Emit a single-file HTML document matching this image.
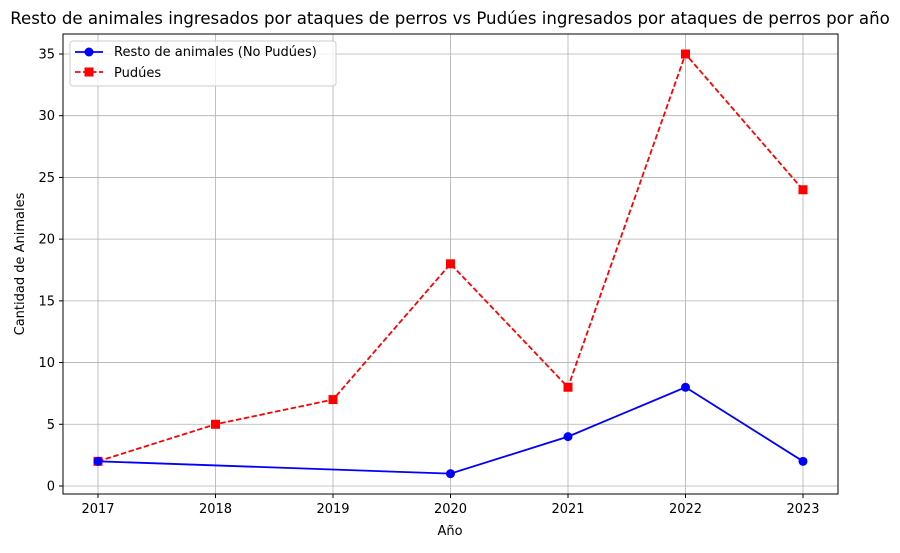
<!DOCTYPE html>
<html><head><meta charset="utf-8"><style>
body{margin:0;background:#fff;font-family:"Liberation Sans","DejaVu Sans",sans-serif;}
text{font-family:"DejaVu Sans","Liberation Sans",sans-serif;}
</style></head><body>
<svg id="chart" width="900" height="548">
<text x="450" y="24" text-anchor="middle" font-size="16.6">Resto de animales ingresados por ataques de perros vs Pudúes ingresados por ataques de perros por año</text>
<g id="grid"></g><g id="marks"></g><g id="axes"></g>
<rect x="63" y="34" width="775" height="460" fill="none" stroke="#000" stroke-width="1"/>
<text x="450" y="535" text-anchor="middle" font-size="13">Año</text>
<text x="24" y="264" text-anchor="middle" font-size="13" transform="rotate(-90 24 264)">Cantidad de Animales</text>
<g>
<rect x="70" y="41" width="266" height="45" rx="3" fill="#fff" fill-opacity="0.8" stroke="#ccc"/>
<g>
<line x1="75" y1="52" x2="103" y2="52" stroke="blue" stroke-width="1.8"/><circle cx="89" cy="52" r="4.5" fill="blue"/>
<text x="114" y="56" font-size="13">Resto de animales (No Pudúes)</text></g>
<g>
<line x1="75" y1="72" x2="103" y2="72" stroke="red" stroke-width="1.8" stroke-dasharray="5.5,2.5"/><rect x="84.5" y="67.5" width="9" height="9" fill="red"/>
<text x="114" y="77" font-size="13">Pudúes</text></g>
</g>
</svg>
<script>
const years=[2017,2018,2019,2020,2021,2022,2023];
const restoYears=[2017,2020,2021,2022,2023];
const restoValues=[2,1,4,8,2];
const puduValues=[2,5,7,18,8,35,24];
const yTicks=[0,5,10,15,20,25,30,35];
const NS="http://www.w3.org/2000/svg";
const xs=y=>98+(y-2017)*117.5;
const ys=v=>486-v*12.343;
function mk(t,a,p){const e=document.createElementNS(NS,t);for(const k in a)e.setAttribute(k,a[k]);p.appendChild(e);return e;}
const grid=document.getElementById('grid'),axes=document.getElementById('axes'),marks=document.getElementById('marks');
years.forEach(y=>{const x=xs(y);
const g=mk('line',{x1:x,x2:x,y1:34,y2:494,stroke:'#b0b0b0','stroke-width':0.8},grid);


mk('line',{x1:x,x2:x,y1:494,y2:498,stroke:'#000'},axes);
const t=mk('text',{x:x,y:513,'text-anchor':'middle','font-size':13},axes);t.textContent=y;

});
yTicks.forEach(v=>{const y=ys(v);
const g=mk('line',{x1:63,x2:838,y1:y,y2:y,stroke:'#b0b0b0','stroke-width':0.8},grid);


mk('line',{x1:59,x2:63,y1:y,y2:y,stroke:'#000'},axes);
const t=mk('text',{x:55,y:y+4.5,'text-anchor':'end','font-size':13},axes);t.textContent=v;

});
const rl=mk('polyline',{points:years.map((y,i)=>xs(y)+','+ys(puduValues[i])).join(' '),fill:'none',stroke:'red','stroke-width':1.8,'stroke-dasharray':'5.5,2.5'},marks);


const bl=mk('polyline',{points:restoYears.map((y,i)=>xs(y)+','+ys(restoValues[i])).join(' '),fill:'none',stroke:'blue','stroke-width':1.8},marks);


years.forEach((y,i)=>{const m=mk('rect',{x:xs(y)-4.5,y:ys(puduValues[i])-4.5,width:9,height:9,fill:'red'},marks);

});
restoYears.forEach((y,i)=>{const m=mk('circle',{cx:xs(y),cy:ys(restoValues[i]),r:4.5,fill:'blue'},marks);

});
</script>
</body></html>
